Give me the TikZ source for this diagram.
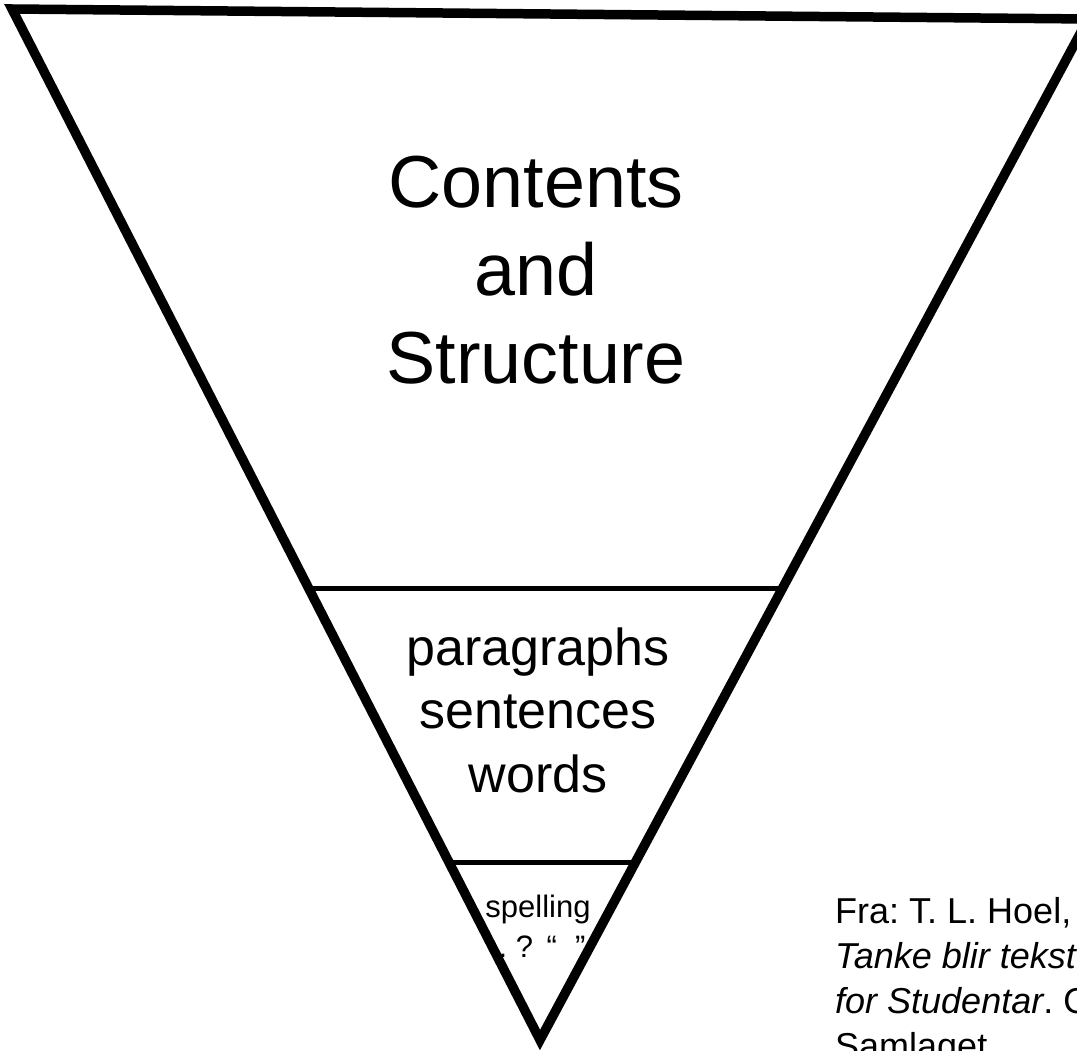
\documentclass[tikz,border=0pt]{standalone}
\usepackage{fontspec}
\setmainfont{Liberation Sans}
\usetikzlibrary{calc, positioning}
\frenchspacing

\begin{document}
\begin{tikzpicture}[x=1pt, y=-1pt,
  edge/.style={line width=9.5pt, line join=miter},
  divider/.style={line width=5pt},
  level/.style={align=center, inner sep=0pt, anchor=base},
  source/.style={align=left, inner sep=0pt, anchor=base west,
    font=\fontsize{36}{45}\selectfont}]
  \useasboundingbox (0,0) rectangle (1077,1051);

  % Funnel corners
  \coordinate (tl) at (12,9);
  \coordinate (tr) at (1088,19);
  \coordinate (apex) at (540,1040);

  % Funnel outline
  \draw[edge] (tl) -- (tr) -- (apex) -- cycle;

  % Dividers between the levels
  \coordinate (l1) at ($(tl)!0.5616!(apex)$);
  \coordinate (r1) at ($(tr)!0.5573!(apex)$);
  \coordinate (l2) at ($(tl)!0.8274!(apex)$);
  \coordinate (r2) at ($(tr)!0.8257!(apex)$);
  \draw[divider] (l1) -- (l1 -| r1);
  \draw[divider] (l2) -- (l2 -| r2);

  % Levels (anchored on the last line)
  \node[level, font=\fontsize{73.7}{88}\selectfont] (top) at (536,383)
    {Contents\\and\\Structure};
  \node[level, font=\fontsize{52}{63.5}\selectfont] (middle) at (538,792)
    {paragraphs\\sentences\\words};
  \node[level, font=\fontsize{31}{40}\selectfont] (bottom) at (538,957)
    {spelling\\\hspace*{8pt}. ?\hspace{0.44em}“\hspace{0.58em}”};

  % Reference
  \node[source] (ref) at (835,1058)
    {Fra: T. L. Hoel,\\\textit{Tanke blir tekst}\\\textit{for Studentar}. Oslo\\Samlaget};
\end{tikzpicture}
\end{document}
